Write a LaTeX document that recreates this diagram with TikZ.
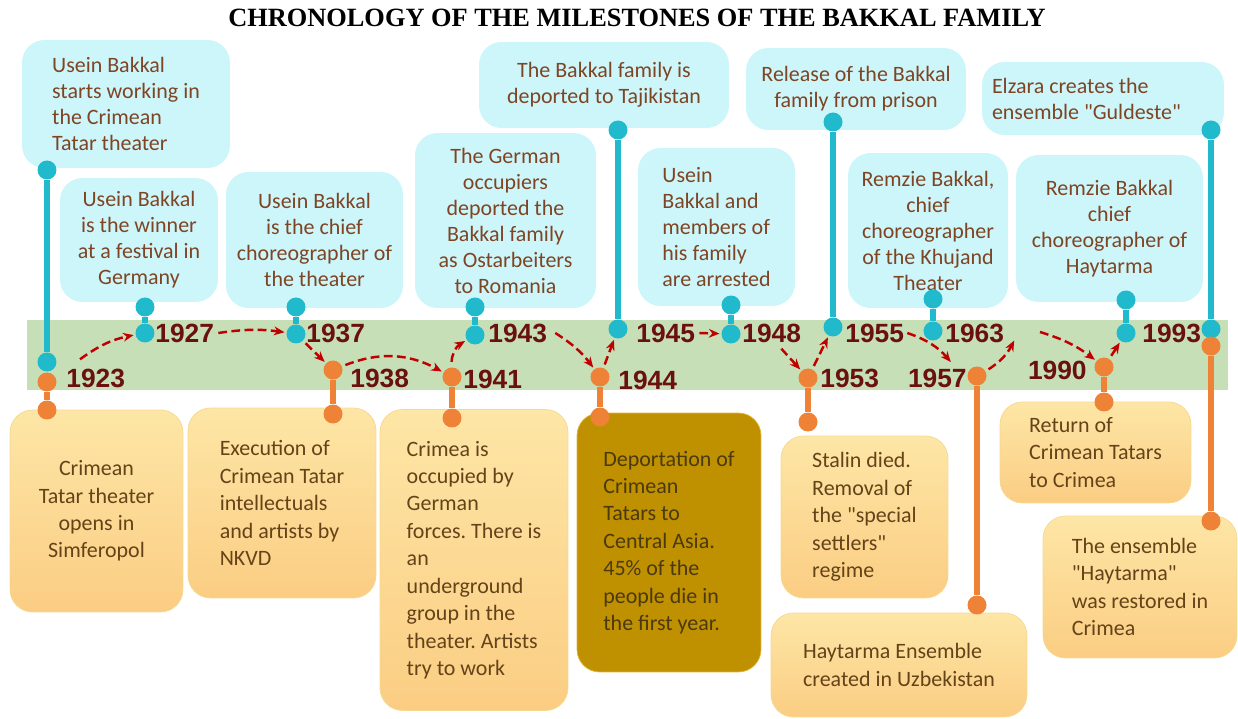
\documentclass[tikz,border=0pt]{standalone}
\usepackage{fontspec}
\setmainfont{Carlito}
\newfontfamily\yearfont{Liberation Sans}
\newfontfamily\titlefont{Liberation Serif}
\usetikzlibrary{arrows.meta}
\frenchspacing

\definecolor{skyfill}{HTML}{CDF6FA}
\definecolor{skyline}{HTML}{21BACD}
\definecolor{orangeline}{HTML}{EE8236}
\definecolor{bandgreen}{HTML}{C6DFB6}
\definecolor{sandtop}{HTML}{FDE6A6}
\definecolor{sandbot}{HTML}{FBCD83}
\definecolor{sandedge}{HTML}{F6D98E}
\definecolor{goldfill}{HTML}{BF9000}
\definecolor{goldedge}{HTML}{E3B53A}
\definecolor{topink}{HTML}{7E4524}
\definecolor{lowink}{HTML}{654319}
\definecolor{goldink}{HTML}{4B3A0E}
\definecolor{yearred}{HTML}{6A1010}
\definecolor{hopred}{HTML}{C00000}

\tikzset{
  evtop/.style={fill=skyfill, rounded corners=0.45cm, text=topink, inner sep=0pt,
    font=\fontsize{12.5}{14.8}\selectfont},
  evlow/.style={top color=sandtop, bottom color=sandbot, draw=sandedge, rounded corners=0.45cm,
    text=lowink, inner sep=0pt, font=\fontsize{12.5}{15.6}\selectfont},
  evgold/.style={fill=goldfill, draw=goldedge, rounded corners=0.45cm, text=goldink,
    inner sep=0pt, font=\fontsize{12.5}{15.6}\selectfont},
  skydot/.style={circle, fill=skyline, minimum size=0.38cm, inner sep=0pt},
  sanddot/.style={circle, fill=orangeline, minimum size=0.38cm, inner sep=0pt},
  skystem/.style={skyline, line width=3pt},
  sandstem/.style={orangeline, line width=3pt},
  yr/.style={font=\yearfont\bfseries\fontsize{15}{15}\selectfont, text=yearred, inner sep=0pt},
  hop/.style={hopred, line width=1.4pt, dash pattern=on 5pt off 2.5pt,
    -{Stealth[length=6pt,width=5pt]}, shorten >=1pt}
}

\begin{document}
\begin{tikzpicture}[x=0.02cm, y=-0.02cm]
    \clip (0,0) rectangle (1238,719);
    \node[font=\titlefont\bfseries\fontsize{15}{15}\selectfont] (title) at (637,18)
        {CHRONOLOGY OF THE MILESTONES OF THE BAKKAL FAMILY};

    % timeline band
    \fill[bandgreen] (27,320) rectangle (1228,390);

    % events above the band
    \node[evtop, align=left, minimum width=4.16cm, minimum height=2.56cm] (t23) at (126,104)
        {Usein Bakkal\\starts working in\\the Crimean\\Tatar theater};
    \node[evtop, align=center, minimum width=3.16cm, minimum height=2.48cm] (t27) at (139,240)
        {Usein Bakkal\\is the winner\\at a festival in\\Germany};
    \node[evtop, align=center, minimum width=3.54cm, minimum height=2.72cm] (t37) at (314.5,240)
        {Usein Bakkal\\is the chief\\choreographer of\\the theater};
    \node[evtop, align=center, minimum width=3.62cm, minimum height=3.5cm] (t43) at (505.5,220.5)
        {The German\\occupiers\\deported the\\Bakkal family\\as Ostarbeiters\\to Romania};
    \node[evtop, align=center, minimum width=5cm, minimum height=1.72cm] (t45) at (604,85)
        {The Bakkal family is\\deported to Tajikistan};
    \node[evtop, align=left, minimum width=3.14cm, minimum height=3.16cm] (t48) at (716.5,227)
        {Usein\\Bakkal and\\members of\\his family\\are arrested};
    \node[evtop, align=center, minimum width=4.4cm, minimum height=1.64cm] (t55) at (856,89)
        {Release of the Bakkal\\family from prison};
    \node[evtop, align=center, minimum width=3.2cm, minimum height=3.1cm] (t63) at (928,230.5)
        {Remzie Bakkal,\\chief\\choreographer\\of the Khujand\\Theater};
    \node[evtop, align=flush left, inner xsep=0.2cm, text width=4.44cm, minimum height=1.46cm] (t93e) at (1103,98.5)
        {Elzara creates the\\ensemble \textquotedbl Guldeste\textquotedbl};
    \node[evtop, align=center, minimum width=3.74cm, minimum height=2.94cm] (t93) at (1109.5,228.5)
        {Remzie Bakkal\\chief\\choreographer of\\Haytarma};

    % events below the band
    \node[evlow, align=center, minimum width=3.46cm, minimum height=4.04cm] (b23) at (96.5,511)
        {Crimean\\Tatar theater\\opens in\\Simferopol};
    \node[evlow, align=left, minimum width=3.76cm, minimum height=3.8cm] (b38) at (282,503)
        {Execution of\\Crimean Tatar\\intellectuals\\and artists by\\NKVD};
    \node[evlow, align=left, minimum width=3.76cm, minimum height=6.02cm] (b41) at (474,560)
        {Crimea is\\occupied by\\German\\forces. There is\\an\\underground\\group in the\\theater. Artists\\try to work};
    \node[evgold, align=left, minimum width=3.68cm, minimum height=5.18cm] (b44) at (669,542.5)
        {Deportation of\\Crimean\\Tatars to\\Central Asia.\\45\% of the\\people die in\\the first year.};
    \node[evlow, align=left, minimum width=3.34cm, minimum height=3.24cm] (b53) at (864.5,517)
        {Stalin died.\\Removal of\\the \textquotedbl special\\settlers\textquotedbl\\regime};
    \node[evlow, align=left, minimum width=5.12cm, minimum height=2.08cm] (b57) at (899,665)
        {Haytarma Ensemble\\created in Uzbekistan};
    \node[evlow, align=left, minimum width=3.82cm, minimum height=2.02cm] (b90) at (1095.5,452.5)
        {Return of\\Crimean Tatars\\to Crimea};
    \node[evlow, align=left, minimum width=3.88cm, minimum height=2.84cm] (b93) at (1140,587)
        {The ensemble\\\textquotedbl Haytarma\textquotedbl\\was restored in\\Crimea};

    % dots
    \node[skydot] (c23a) at (47,170) {};
    \node[skydot] (c23b) at (47,362) {};
    \node[sanddot] (o23a) at (47,382) {};
    \node[sanddot] (o23b) at (47,410) {};
    \node[skydot] (c27a) at (145,307) {};
    \node[skydot] (c27b) at (145,333) {};
    \node[skydot] (c37a) at (296,307) {};
    \node[skydot] (c37b) at (296,334) {};
    \node[sanddot] (o38a) at (333,370) {};
    \node[sanddot] (o38b) at (333,414) {};
    \node[sanddot] (o41a) at (452,377) {};
    \node[sanddot] (o41b) at (452,418) {};
    \node[skydot] (c43a) at (475,307) {};
    \node[skydot] (c43b) at (475,335) {};
    \node[sanddot] (o44a) at (600,377) {};
    \node[sanddot] (o44b) at (600,417) {};
    \node[skydot] (c45a) at (618,130) {};
    \node[skydot] (c45b) at (618,329) {};
    \node[skydot] (c48a) at (731,305) {};
    \node[skydot] (c48b) at (731,334) {};
    \node[sanddot] (o53a) at (808,378) {};
    \node[sanddot] (o53b) at (808,422) {};
    \node[skydot] (c55a) at (833,122) {};
    \node[skydot] (c55b) at (833,327) {};
    \node[skydot] (c63a) at (933,299) {};
    \node[skydot] (c63b) at (933,331) {};
    \node[sanddot] (o57a) at (977,376) {};
    \node[sanddot] (o57b) at (977,605) {};
    \node[sanddot] (o90a) at (1104,367) {};
    \node[sanddot] (o90b) at (1104,402) {};
    \node[skydot] (c93a) at (1126,300) {};
    \node[skydot] (c93b) at (1126,333) {};
    \node[skydot] (e93a) at (1211,130) {};
    \node[skydot] (e93b) at (1211,329) {};
    \node[sanddot] (r93a) at (1211,346) {};
    \node[sanddot] (r93b) at (1211,521) {};

    % stems
    \draw[skystem] (c23a) -- (c23b);
    \draw[sandstem] (o23a) -- (o23b);
    \draw[skystem] (c27a) -- (c27b);
    \draw[skystem] (c37a) -- (c37b);
    \draw[sandstem] (o38a) -- (o38b);
    \draw[sandstem] (o41a) -- (o41b);
    \draw[skystem] (c43a) -- (c43b);
    \draw[sandstem] (o44a) -- (o44b);
    \draw[skystem] (c45a) -- (c45b);
    \draw[skystem] (c48a) -- (c48b);
    \draw[sandstem] (o53a) -- (o53b);
    \draw[skystem] (c55a) -- (c55b);
    \draw[skystem] (c63a) -- (c63b);
    \draw[sandstem] (o57a) -- (o57b);
    \draw[sandstem] (o90a) -- (o90b);
    \draw[skystem] (c93a) -- (c93b);
    \draw[skystem] (e93a) -- (e93b);
    \draw[sandstem] (r93a) -- (r93b);

    % years
    \node[yr, anchor=west] (y23) at (66,378) {1923};
    \node[yr, anchor=west] (y27) at (155,333) {1927};
    \node[yr, anchor=west] (y37) at (306,333) {1937};
    \node[yr, anchor=west] (y38) at (350,378) {1938};
    \node[yr, anchor=west] (y41) at (463,379) {1941};
    \node[yr, anchor=west] (y43) at (488,333) {1943};
    \node[yr, anchor=west] (y44) at (618,380) {1944};
    \node[yr, anchor=west] (y45) at (636,333) {1945};
    \node[yr, anchor=west] (y48) at (742,333) {1948};
    \node[yr, anchor=west] (y53) at (820,378) {1953};
    \node[yr, anchor=west] (y55) at (845,333) {1955};
    \node[yr, anchor=west] (y63) at (945,333) {1963};
    \node[yr, anchor=east] (y57) at (967,378) {1957};
    \node[yr, anchor=east] (y90) at (1087,370) {1990};
    \node[yr, anchor=west] (y93) at (1142,333) {1993};

    % dashed hops along the band
    \coordinate (f57) at (1015,339);
    \coordinate (f90) at (1040,332);
    \draw[hop] ([shift={(14,-9)}]y23.north west) to[bend left=12] (c27b);
    \draw[hop] ([shift={(4,0)}]y27.east) to[bend left=8] (c37b);
    \draw[hop, shorten <=2pt] (c37b) -- (o38a);
    \draw[hop, shorten <=2pt] (o38a) to[bend left=25] (o41a);
    \draw[hop, shorten <=3pt] (o41a) to[bend left=30] (c43b);
    \draw[hop] ([shift={(8,0)}]y43.east) to[bend left=10] (o44a);
    \draw[hop, shorten <=2pt] (o44a) -- (c45b);
    \draw[hop] ([shift={(4,0)}]y45.east) -- (c48b);
    \draw[hop] ([shift={(-20,6)}]y48.south east) -- (o53a);
    \draw[hop, shorten <=2pt] (o53a) -- (c55b);
    \draw[hop] ([shift={(3,0)}]y55.east) to[bend left=15] ([shift={(-15,-5)}]y57.north east);
    \draw[hop, shorten <=2pt] (o57a) to[bend right=15] (f57);
    \draw[hop] (f90) to[bend left=10] (o90a);
    \draw[hop, shorten <=2pt] (o90a) -- (c93b);
\end{tikzpicture}
\end{document}
